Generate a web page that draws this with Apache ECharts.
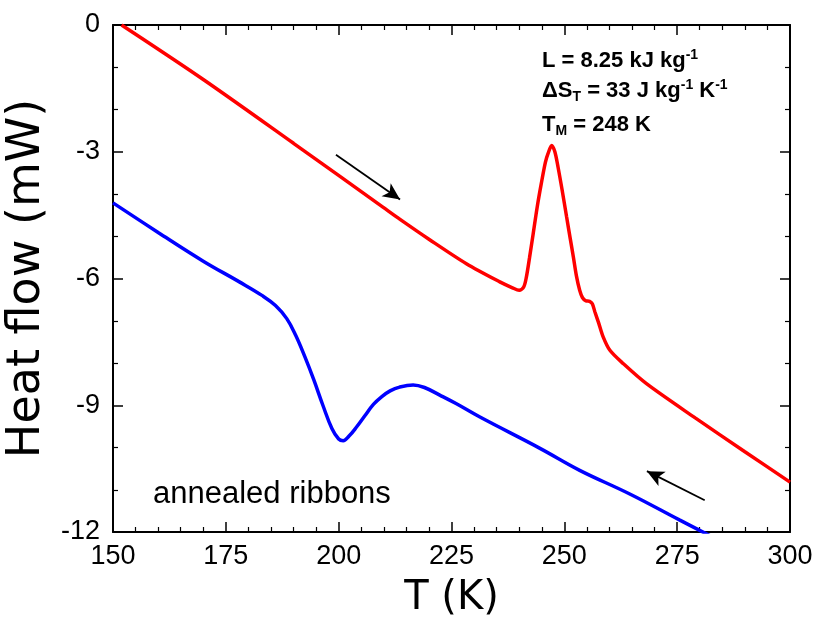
<!DOCTYPE html>
<html>
<head>
<meta charset="utf-8">
<script src="https://cdn.jsdelivr.net/npm/echarts@6/dist/echarts.min.js"></script>
<style>html,body{margin:0;padding:0;background:#fff}#c{width:820px;height:623px}</style>
</head>
<body>
<div id="c"></div>
<script>
// Heating curve (red): [T (K), Heat flow (mW)]
const heatingT  = [151.9,170,190,209.8,213.6,220,228.3,235.7,238.5,240,241,241.6,242.3,243.1,244,244.9,245.8,246.4,247.2,247.9,248.6,249.5,250.5,251.3,252.0,252.7,253.4,254.0,254.8,255.6,256.2,256.8,257.6,258.6,260.1,263.0,268.2,279.0,290,300];
const heatingHF = [0,-1.29,-2.8,-4.31,-4.6,-5.07,-5.65,-6.08,-6.22,-6.28,-6.2,-5.96,-5.5,-4.94,-4.3,-3.75,-3.25,-3.04,-2.85,-3.0,-3.36,-3.9,-4.54,-5.05,-5.49,-5.95,-6.28,-6.45,-6.53,-6.54,-6.6,-6.8,-7.05,-7.38,-7.70,-8.01,-8.49,-9.3,-10.1,-10.82];
// Cooling curve (blue)
const coolingT  = [150,160,170,178,183,186,188.5,190.5,192.5,194.5,196.5,198.5,200,201,202.3,204.0,205.8,207.7,209.5,211.4,213.5,216.5,219,222.4,226,231.3,244.6,253.4,264.5,275.6,282.5];
const coolingHF = [-4.21,-4.91,-5.59,-6.08,-6.4,-6.64,-6.95,-7.35,-7.85,-8.4,-9.0,-9.55,-9.8,-9.84,-9.73,-9.51,-9.25,-8.98,-8.8,-8.66,-8.57,-8.52,-8.58,-8.76,-8.96,-9.28,-10.02,-10.54,-11.1,-11.72,-12.1];
// Direction arrows: [[T0,HF0],[T1,HF1]]
const arrowHeating = [[199.4,-3.07],[213.6,-4.13]];
const arrowCooling = [[281.1,-11.25],[268.3,-10.56]];
const xTicks = {min:150, max:300, step:25};
const yTicks = {min:-12, max:0, step:3};

const zip = (a,b)=>a.map((v,i)=>[v,b[i]]);
const tickFont = "'Liberation Sans Narrow','Arial Narrow','Liberation Sans',Arial,sans-serif";

const chart = echarts.init(document.getElementById('c'), null, {renderer:'canvas'});
const axisLine = {show:true, onZero:false, lineStyle:{color:'#000', width:2}};
const axisTick = {show:true, inside:true, length:10, lineStyle:{color:'#000', width:1.5}};
const minorX = {show:true, splitNumber:5, length:5, lineStyle:{color:'#000', width:1.2}};
const minorY = {show:true, splitNumber:3, length:5, lineStyle:{color:'#000', width:1.2}};
chart.setOption({
  animation:false,
  backgroundColor:'#fff',
  grid:{left:113, right:30, top:25, bottom:91, containLabel:false, outerBoundsMode:'none'},
  xAxis:[
    {type:'value', position:'bottom', min:xTicks.min, max:xTicks.max, interval:xTicks.step,
      axisLine, axisTick, minorTick:minorX, splitLine:{show:false},
      axisLabel:{color:'#000', fontSize:27, fontFamily:tickFont, margin:11},
      name:'T (K)', nameLocation:'middle', nameGap:47,
      nameTextStyle:{color:'#000', fontSize:40, fontFamily:"'DejaVu Sans',sans-serif"}},
    {type:'value', position:'top', min:xTicks.min, max:xTicks.max, interval:xTicks.step,
      axisLine, axisTick, minorTick:minorX, splitLine:{show:false}, axisLabel:{show:false}}
  ],
  yAxis:[
    {type:'value', position:'left', min:yTicks.min, max:yTicks.max, interval:yTicks.step,
      axisLine, axisTick, minorTick:minorY, splitLine:{show:false},
      axisLabel:{color:'#000', fontSize:27, fontFamily:tickFont, margin:13},
      name:'Heat flow (mW)', nameLocation:'middle', nameGap:57,
      nameTextStyle:{color:'#000', fontSize:46, fontFamily:"'DejaVu Sans',sans-serif"}},
    {type:'value', position:'right', min:yTicks.min, max:yTicks.max, interval:yTicks.step,
      axisLine, axisTick, minorTick:minorY, splitLine:{show:false}, axisLabel:{show:false}}
  ],
  series:[
    {type:'line', data:zip(heatingT,heatingHF), showSymbol:false, smooth:0.3,
     lineStyle:{color:'#ff0000', width:3.5}, itemStyle:{color:'#ff0000'}, z:3,
     markLine:{silent:true, symbol:['none','arrow'], symbolSize:[12,17], label:{show:false},
       lineStyle:{color:'#000', width:1.8, type:'solid'},
       data:[[{coord:arrowHeating[0]},{coord:arrowHeating[1]}]]}},
    {type:'line', data:zip(coolingT,coolingHF), showSymbol:false, smooth:0.4,
     lineStyle:{color:'#0000ff', width:3.5}, itemStyle:{color:'#0000ff'}, z:3,
     markLine:{silent:true, symbol:['none','arrow'], symbolSize:[12,17], label:{show:false},
       lineStyle:{color:'#000', width:1.8, type:'solid'},
       data:[[{coord:arrowCooling[0]},{coord:arrowCooling[1]}]]}}
  ],
  graphic:[
    {type:'text', left:153, top:479, style:{text:'annealed ribbons', fill:'#000', font:"31px 'Liberation Sans',Arial,sans-serif"}},
    {type:'text', left:542, top:48, style:{text:'L = 8.25 kJ kg{sup|-1}', fill:'#000',
      font:"bold 22px 'Liberation Sans',Arial,sans-serif",
      rich:{sup:{fontSize:14, fontWeight:'bold', fontFamily:"'Liberation Sans',Arial", padding:[0,0,12,0]}}}},
    {type:'text', left:542, top:78, style:{text:'ΔS{sub|T} = 33 J kg{sup|-1} K{sup|-1}', fill:'#000',
      font:"bold 22px 'Liberation Sans',Arial,sans-serif",
      rich:{sup:{fontSize:14, fontWeight:'bold', fontFamily:"'Liberation Sans',Arial", padding:[0,0,12,0]},
            sub:{fontSize:14, fontWeight:'bold', fontFamily:"'Liberation Sans',Arial", padding:[12,0,0,0]}}}},
    {type:'text', left:542, top:114, style:{text:'T{sub|M} = 248 K', fill:'#000',
      font:"bold 22px 'Liberation Sans',Arial,sans-serif",
      rich:{sub:{fontSize:14, fontWeight:'bold', fontFamily:"'Liberation Sans',Arial", padding:[12,0,0,0]}}}}
  ]
});
</script>
</body>
</html>
